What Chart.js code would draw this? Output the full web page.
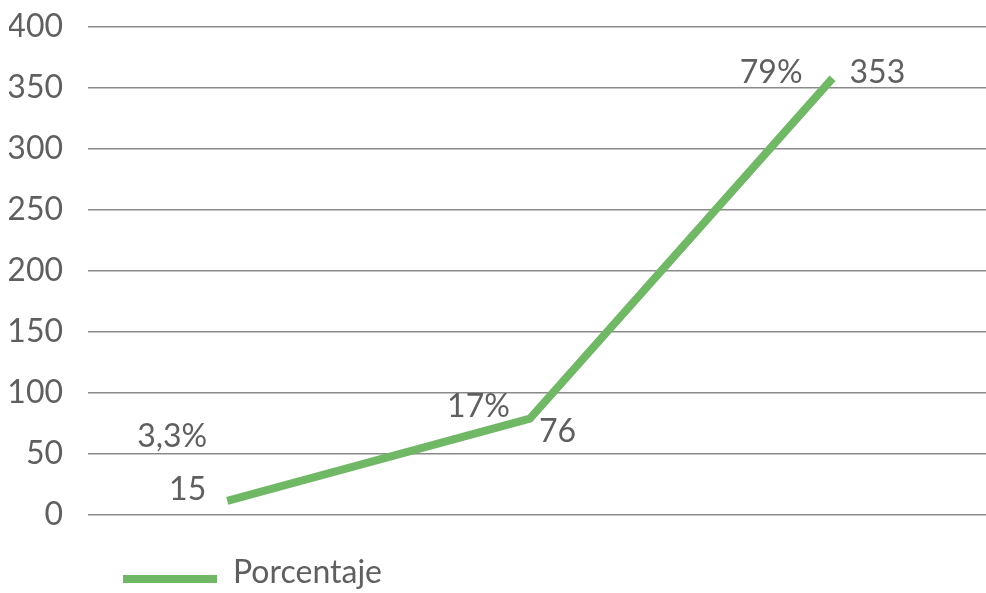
<!DOCTYPE html>
<html>
<head>
<meta charset="utf-8">
<script src="https://cdn.jsdelivr.net/npm/chart.js@4/dist/chart.umd.min.js"></script>
<style>
  html, body { margin: 0; padding: 0; background: #ffffff; }
  canvas { display: block; }
</style>
</head>
<body>
<canvas id="c" width="986" height="593"></canvas>
<script>
// ---- data ----
const seriesName = 'Porcentaje';
const categoryIndex = [0, 1, 2];            // three unlabeled categories
const plottedValues = [11.5, 79, 358];      // line positions as drawn
const valueLabels = ['15', '76', '353'];    // data label text
const percentLabels = ['3,3%', '17%', '79%'];
const yTicks = [0, 50, 100, 150, 200, 250, 300, 350, 400];

const FONT = 'Lato, "Open Sans", "DejaVu Sans", sans-serif';
const FONT_SIZE = 32;
const GREY = '#5f5f5f';
const GREEN = '#70b766';

// legend swatch: a line segment sitting slightly below the text middle
const swatch = document.createElement('canvas');
swatch.width = 94;
swatch.height = 20;
(function () {
  const g = swatch.getContext('2d');
  g.fillStyle = GREEN;
  g.fillRect(0, 12, 94, 8);
})();

// label placement relative to each point (style, not data)
const valueLabelPlacement = [
  { dx: -21, dy: -11, align: 'right' },
  { dx: 9, dy: 13, align: 'left' },
  { dx: 17, dy: -6, align: 'left' }
];
const percentLabelPlacement = [
  { dx: -20, dy: -64, align: 'right' },
  { dx: -20, dy: -12, align: 'right' },
  { dx: -30, dy: -6, align: 'right' }
];

const dataLabelPlugin = {
  id: 'dataLabelPlugin',
  afterDatasetsDraw(chart) {
    const meta = chart.getDatasetMeta(0);
    const ctx = chart.ctx;
    ctx.save();
    ctx.font = FONT_SIZE + 'px ' + FONT;
    ctx.fillStyle = GREY;
    ctx.textBaseline = 'middle';
    meta.data.forEach((pt, i) => {
      const v = valueLabelPlacement[i];
      ctx.textAlign = v.align;
      ctx.fillText(valueLabels[i], pt.x + v.dx, pt.y + v.dy);
      const p = percentLabelPlacement[i];
      ctx.textAlign = p.align;
      ctx.fillText(percentLabels[i], pt.x + p.dx, pt.y + p.dy);
    });
    ctx.restore();
  }
};

const legendShiftPlugin = {
  id: 'legendShift',
  afterLayout(chart) {
    const lg = chart.legend;
    if (!lg) return;
    lg.left = 123;
    const h = lg.bottom - lg.top;
    lg.top = 557;
    lg.bottom = lg.top + h;
  }
};

new Chart(document.getElementById('c'), {
  type: 'line',
  data: {
    datasets: [{
      label: seriesName,
      data: categoryIndex.map((x, i) => ({ x: x, y: plottedValues[i] })),
      borderColor: GREEN,
      backgroundColor: GREEN,
      borderWidth: 8,
      borderCapStyle: 'butt',
      borderJoinStyle: 'round',
      tension: 0,
      pointRadius: 0,
      pointHoverRadius: 0,
      fill: false
    }]
  },
  options: {
    responsive: false,
    animation: false,
    devicePixelRatio: 1,
    layout: { padding: { left: 9, right: 0, top: 27, bottom: 0 } },
    scales: {
      x: {
        type: 'linear',
        min: -0.46,
        max: 2.507,
        display: true,
        grid: { display: false },
        border: { display: false },
        ticks: { display: false },
        afterFit(scale) { scale.height = 36; scale.paddingLeft = 0; scale.paddingRight = 0; }
      },
      y: {
        min: 0,
        max: 400,
        afterBuildTicks(scale) { scale.ticks = yTicks.map(v => ({ value: v })); },
        afterFit(scale) { scale.width = 79; scale.paddingTop = 0; scale.paddingBottom = 0; },
        grid: { color: '#8a8a8a', lineWidth: 1.4, drawTicks: false },
        border: { display: false },
        ticks: {
          padding: 25,
          color: GREY,
          font: { size: FONT_SIZE, family: FONT }
        }
      }
    },
    plugins: {
      tooltip: { enabled: false },
      legend: {
        position: 'bottom',
        align: 'start',
        labels: {
          usePointStyle: true,
          pointStyleWidth: 94,
          boxWidth: 94,
          boxHeight: 20,
          padding: 0,
          color: GREY,
          font: { size: FONT_SIZE, family: FONT },
          generateLabels(chart) {
            return chart.data.datasets.map((ds, i) => ({
              text: ds.label,
              fillStyle: GREEN,
              strokeStyle: GREEN,
              lineWidth: 0,
              pointStyle: swatch,
              fontColor: GREY,
              datasetIndex: i,
              hidden: false
            }));
          }
        }
      }
    }
  },
  plugins: [dataLabelPlugin, legendShiftPlugin]
});
</script>
</body>
</html>
